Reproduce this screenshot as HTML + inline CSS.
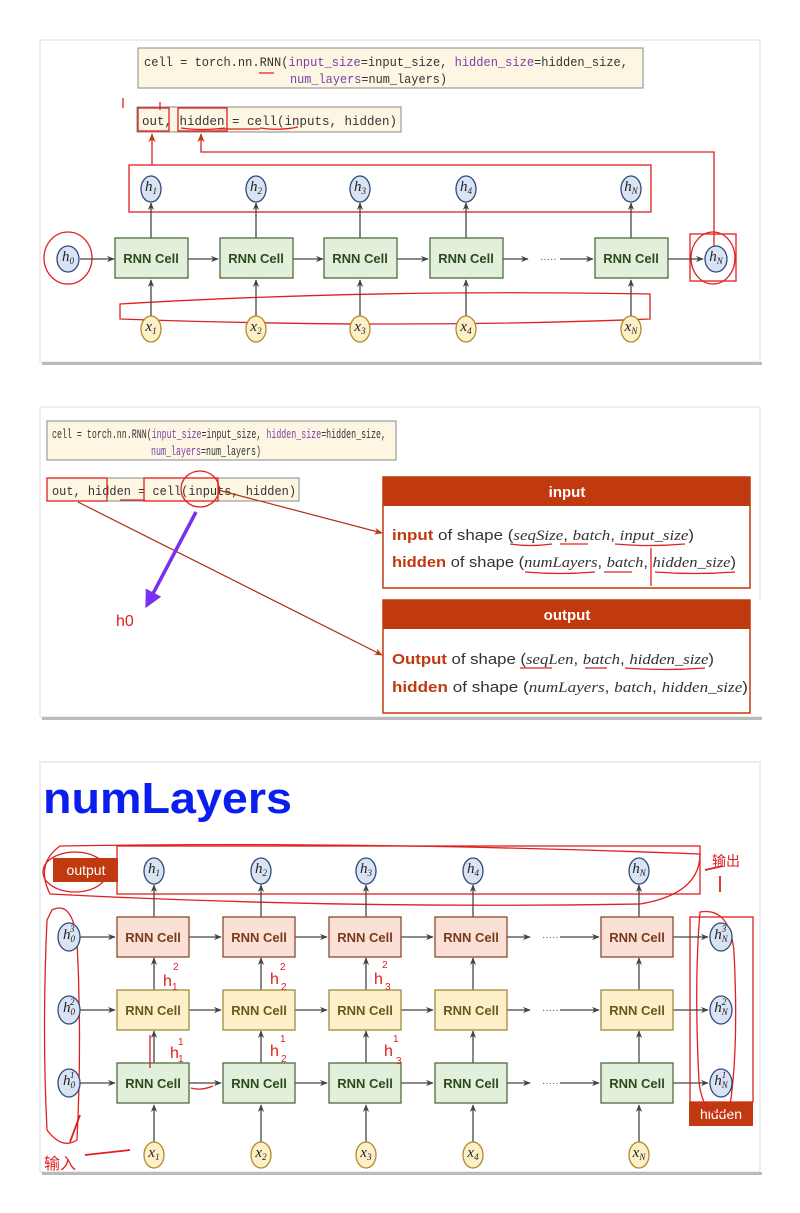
<!DOCTYPE html>
<html><head><meta charset="utf-8"><style>
html,body{margin:0;padding:0;background:#fff;}
svg{display:block}
.code{font-family:"Liberation Mono",monospace;font-size:13px;fill:#333}
.kw{fill:#7a3fa8}
.cell{font-family:"Liberation Sans",sans-serif;font-weight:bold;font-size:13px;text-anchor:middle}
.v{font-family:"Liberation Serif",serif;font-style:italic;font-size:15px;text-anchor:middle;fill:#222}
.sub{font-size:9px}
.t{font-family:"Liberation Sans",sans-serif;font-size:15px;fill:#333}
.b{font-weight:bold;fill:#c0390f}
.i{font-family:"Liberation Serif",serif;font-style:italic}
.r{fill:none;stroke:#e02020;stroke-width:1.3}
.ln{stroke:#444;stroke-width:1.3;fill:none}
</style></head><body>
<svg width="800" height="1213" viewBox="0 0 800 1213" xmlns="http://www.w3.org/2000/svg">
<defs>
<marker id="a" viewBox="0 0 10 10" refX="9" refY="5" markerWidth="6" markerHeight="6" orient="auto"><path d="M0,1 L10,5 L0,9 L3,5z" fill="#444"/></marker>
<marker id="ar" viewBox="0 0 10 10" refX="9" refY="5" markerWidth="7" markerHeight="7" orient="auto"><path d="M0,1 L10,5 L0,9 L3,5z" fill="#c0390f"/></marker>
<marker id="ap" viewBox="0 0 10 10" refX="8" refY="5" markerWidth="5" markerHeight="5" orient="auto"><path d="M0,0 L10,5 L0,10z" fill="#7b2ff0"/></marker>
</defs>
<!-- panels -->
<rect x="40" y="40" width="720" height="322" fill="#fff" stroke="#ddd"/>
<rect x="42" y="362" width="720" height="3" fill="#bbb"/>
<rect x="40" y="407" width="720" height="310" fill="#fff" stroke="#ddd"/>
<rect x="42" y="717" width="720" height="3" fill="#bbb"/>
<rect x="40" y="762" width="720" height="410" fill="#fff" stroke="#ddd"/>
<rect x="42" y="1172" width="720" height="3" fill="#bbb"/>

<!-- PANEL 1 -->
<rect x="138" y="48" width="505" height="40" fill="#fdf6e3" stroke="#888"/>
<text class="code" x="144" y="66" textLength="484" lengthAdjust="spacingAndGlyphs">cell = torch.nn.RNN(<tspan class="kw">input_size</tspan>=input_size, <tspan class="kw">hidden_size</tspan>=hidden_size,</text>
<text class="code" x="290" y="83" textLength="157" lengthAdjust="spacingAndGlyphs"><tspan class="kw">num_layers</tspan>=num_layers)</text>
<rect x="137" y="107" width="264" height="25" fill="#fdf6e3" stroke="#888"/>
<text class="code" x="142" y="125" textLength="255" lengthAdjust="spacingAndGlyphs">out, hidden = cell(inputs, hidden)</text>
<rect x="138" y="108" width="31" height="23" class="r"/>
<rect x="178" y="108" width="49" height="23" class="r"/>
<path d="M259,73 h15 M181,128 q20,3 44,0 M215,129 h45 M260,128 q20,3 38,-1 M123,98 v10 M160,102 v8" class="r"/>
<rect x="129" y="165" width="522" height="47" class="r"/>
<path d="M152,165 V134" class="r" marker-end="url(#ar)"/>
<path d="M714,250 V152 H201 V134" class="r" marker-end="url(#ar)"/>
<path d="M120,304 q250,-15 530,-10 v25 q-250,10 -530,0 z" class="r"/>
<ellipse cx="68" cy="258" rx="24" ry="26" class="r"/>
<rect x="690" y="234" width="46" height="47" class="r"/>
<ellipse cx="713" cy="258" rx="22" ry="26" class="r"/>
<path class="ln" d="M80,259 H114" marker-end="url(#a)"/>
<path class="ln" d="M188,259 H218" marker-end="url(#a)"/>
<path class="ln" d="M293,259 H323" marker-end="url(#a)"/>
<path class="ln" d="M397,259 H428" marker-end="url(#a)"/>
<path class="ln" d="M503,259 H528" marker-end="url(#a)"/>
<path class="ln" d="M560,259 H593" marker-end="url(#a)"/>
<path class="ln" d="M668,259 H703" marker-end="url(#a)"/>
<path class="ln" d="M151,238 V203" marker-end="url(#a)"/>
<path class="ln" d="M256,238 V203" marker-end="url(#a)"/>
<path class="ln" d="M360,238 V203" marker-end="url(#a)"/>
<path class="ln" d="M466,238 V203" marker-end="url(#a)"/>
<path class="ln" d="M631,238 V203" marker-end="url(#a)"/>
<path class="ln" d="M151,316 V280" marker-end="url(#a)"/>
<path class="ln" d="M256,316 V280" marker-end="url(#a)"/>
<path class="ln" d="M360,316 V280" marker-end="url(#a)"/>
<path class="ln" d="M466,316 V280" marker-end="url(#a)"/>
<path class="ln" d="M631,316 V280" marker-end="url(#a)"/>
<text x="540" y="262" font-size="10" fill="#444" font-family="Liberation Sans">·····</text>
<g fill="#e2efda" stroke="#4e6b3f" stroke-width="1.3">
<rect x="115" y="238" width="73" height="40"/><rect x="220" y="238" width="73" height="40"/><rect x="324" y="238" width="73" height="40"/><rect x="430" y="238" width="73" height="40"/><rect x="595" y="238" width="73" height="40"/>
</g>
<g class="cell" fill="#2d4a1e"><text x="151" y="263">RNN Cell</text><text x="256" y="263">RNN Cell</text><text x="360" y="263">RNN Cell</text><text x="466" y="263">RNN Cell</text><text x="631" y="263">RNN Cell</text></g>
<g fill="#dae3f3" stroke="#2f4a7a" stroke-width="1.3">
<ellipse cx="151" cy="189" rx="10" ry="13"/><ellipse cx="256" cy="189" rx="10" ry="13"/><ellipse cx="360" cy="189" rx="10" ry="13"/><ellipse cx="466" cy="189" rx="10" ry="13"/><ellipse cx="631" cy="189" rx="10" ry="13"/>
<ellipse cx="68" cy="259" rx="11" ry="13"/><ellipse cx="716" cy="259" rx="11" ry="13"/>
</g>
<g fill="#fdf0c8" stroke="#b08b2a" stroke-width="1.3">
<ellipse cx="151" cy="329" rx="10" ry="13"/><ellipse cx="256" cy="329" rx="10" ry="13"/><ellipse cx="360" cy="329" rx="10" ry="13"/><ellipse cx="466" cy="329" rx="10" ry="13"/><ellipse cx="631" cy="329" rx="10" ry="13"/>
</g>
<g class="v">
<text x="151" y="191">h<tspan class="sub" dy="3">1</tspan></text><text x="256" y="191">h<tspan class="sub" dy="3">2</tspan></text><text x="360" y="191">h<tspan class="sub" dy="3">3</tspan></text><text x="466" y="191">h<tspan class="sub" dy="3">4</tspan></text><text x="631" y="191">h<tspan class="sub" dy="3">N</tspan></text>
<text x="68" y="261">h<tspan class="sub" dy="3">0</tspan></text><text x="716" y="261">h<tspan class="sub" dy="3">N</tspan></text>
<text x="151" y="331">x<tspan class="sub" dy="3">1</tspan></text><text x="256" y="331">x<tspan class="sub" dy="3">2</tspan></text><text x="360" y="331">x<tspan class="sub" dy="3">3</tspan></text><text x="466" y="331">x<tspan class="sub" dy="3">4</tspan></text><text x="631" y="331">x<tspan class="sub" dy="3">N</tspan></text>
</g>

<!-- PANEL 2 -->
<rect x="47" y="421" width="349" height="39" fill="#fdf6e3" stroke="#888"/>
<text class="code" x="52" y="438" textLength="334" lengthAdjust="spacingAndGlyphs">cell = torch.nn.RNN(<tspan class="kw">input_size</tspan>=input_size, <tspan class="kw">hidden_size</tspan>=hidden_size,</text>
<text class="code" x="151" y="455" textLength="110" lengthAdjust="spacingAndGlyphs"><tspan class="kw">num_layers</tspan>=num_layers)</text>
<rect x="47" y="478" width="252" height="23" fill="#fdf6e3" stroke="#888"/>
<text class="code" x="52" y="495" textLength="244" lengthAdjust="spacingAndGlyphs">out, hidden = cell(inputs, hidden)</text>
<rect x="47" y="478" width="60" height="23" class="r"/>
<rect x="144" y="478" width="74" height="23" class="r"/>
<path d="M120,500 h25" class="r"/>
<ellipse cx="200" cy="489" rx="19" ry="18" class="r"/>
<path d="M218,490 L382,533" stroke="#b03010" stroke-width="1.2" fill="none" marker-end="url(#ar)"/>
<path d="M78,502 L382,655" stroke="#b03010" stroke-width="1.2" fill="none" marker-end="url(#ar)"/>
<path d="M196,512 L147,605" stroke="#7b2ff0" stroke-width="3.5" fill="none" marker-end="url(#ap)"/>
<text x="116" y="626" fill="#e02020" font-family="Liberation Sans" font-size="16">h0</text>
<rect x="383" y="477" width="367" height="111" fill="#fff" stroke="#c0390f" stroke-width="1.5"/>
<rect x="383" y="477" width="367" height="29" fill="#c0390f"/>
<text x="567" y="497" text-anchor="middle" fill="#fff" font-family="Liberation Sans" font-weight="bold" font-size="15">input</text>
<text class="t" x="392" y="540" textLength="302" lengthAdjust="spacingAndGlyphs"><tspan class="b">input</tspan> of shape (<tspan class="i">seqSize</tspan>, <tspan class="i">batch</tspan>, <tspan class="i">input_size</tspan>)</text>
<text class="t" x="392" y="567" textLength="344" lengthAdjust="spacingAndGlyphs"><tspan class="b">hidden</tspan> of shape (<tspan class="i">numLayers</tspan>, <tspan class="i">batch</tspan>, <tspan class="i">hidden_size</tspan>)</text>
<path d="M510,544 q20,3 42,0 M560,544 h28 M615,544 q35,3 70,0 M525,572 q35,3 70,0 M604,572 h28 M655,572 q40,3 80,0 M651,548 v38" class="r"/>
<rect x="383" y="600" width="367" height="113" fill="#fff" stroke="#c0390f" stroke-width="1.5"/>
<rect x="383" y="600" width="367" height="29" fill="#c0390f"/>
<text x="567" y="620" text-anchor="middle" fill="#fff" font-family="Liberation Sans" font-weight="bold" font-size="15">output</text>
<text class="t" x="392" y="664" textLength="322" lengthAdjust="spacingAndGlyphs"><tspan class="b">Output</tspan> of shape (<tspan class="i">seqLen</tspan>, <tspan class="i">batch</tspan>, <tspan class="i">hidden_size</tspan>)</text>
<text class="t" x="392" y="692" textLength="356" lengthAdjust="spacingAndGlyphs"><tspan class="b">hidden</tspan> of shape (<tspan class="i">numLayers</tspan>, <tspan class="i">batch</tspan>, <tspan class="i">hidden_size</tspan>)</text>
<path d="M520,668 h32 M585,668 h22 M625,668 q40,3 80,0" class="r"/>
<rect x="751" y="600" width="10" height="115" fill="#fff"/>

<!-- PANEL 3 -->
<text x="43" y="813" fill="#0a1ef0" font-family="Liberation Sans" font-weight="bold" font-size="44" textLength="249" lengthAdjust="spacingAndGlyphs">numLayers</text>
<rect x="117" y="846" width="583" height="48" class="r"/>
<path d="M60,846 q300,-5 640,8 q0,40 -60,50 q-300,5 -590,-10 q-15,-30 10,-48z" class="r"/>
<ellipse cx="75" cy="872" rx="32" ry="20" class="r"/>
<rect x="53" y="858" width="65" height="24" fill="#c0390f"/>
<text x="86" y="875" text-anchor="middle" fill="#fff" font-family="Liberation Sans" font-size="14">output</text>
<rect x="690" y="917" width="63" height="185" class="r"/>
<rect x="689" y="1102" width="64" height="24" fill="#c0390f"/>
<text x="721" y="1119" text-anchor="middle" fill="#fff" font-family="Liberation Sans" font-size="14">hidden</text>
<path d="M52,910 q20,-10 25,30 q5,100 0,200 q-15,10 -30,-10 q-5,-100 0,-210z" class="r"/>
<path d="M700,912 q30,-5 34,40 q5,100 -5,160 q-25,10 -30,-30 q-5,-100 1,-170z" class="r"/>
<path d="M705,870 L723,866 M720,876 L720,892" stroke="#e02020" stroke-width="1.8" fill="none"/>
<path d="M80,1115 L70,1142 M130,1150 L85,1155" stroke="#e02020" stroke-width="1.8" fill="none"/>
<text x="712" y="866" fill="#e02020" font-family="Liberation Sans, Noto Sans CJK SC, sans-serif" font-size="14">输出</text>
<text x="44" y="1169" fill="#e02020" font-family="Liberation Sans, Noto Sans CJK SC, sans-serif" font-size="16">输入</text>
<!-- horizontal arrows -->
<path class="ln" d="M80,937 H115" marker-end="url(#a)"/><path class="ln" d="M189,937 H221" marker-end="url(#a)"/><path class="ln" d="M295,937 H327" marker-end="url(#a)"/><path class="ln" d="M401,937 H433" marker-end="url(#a)"/><path class="ln" d="M507,937 H530" marker-end="url(#a)"/><path class="ln" d="M560,937 H599" marker-end="url(#a)"/><path class="ln" d="M673,937 H708" marker-end="url(#a)"/>
<path class="ln" d="M80,1010 H115" marker-end="url(#a)"/><path class="ln" d="M189,1010 H221" marker-end="url(#a)"/><path class="ln" d="M295,1010 H327" marker-end="url(#a)"/><path class="ln" d="M401,1010 H433" marker-end="url(#a)"/><path class="ln" d="M507,1010 H530" marker-end="url(#a)"/><path class="ln" d="M560,1010 H599" marker-end="url(#a)"/><path class="ln" d="M673,1010 H708" marker-end="url(#a)"/>
<path class="ln" d="M80,1083 H115" marker-end="url(#a)"/><path class="ln" d="M189,1083 H221" marker-end="url(#a)"/><path class="ln" d="M295,1083 H327" marker-end="url(#a)"/><path class="ln" d="M401,1083 H433" marker-end="url(#a)"/><path class="ln" d="M507,1083 H530" marker-end="url(#a)"/><path class="ln" d="M560,1083 H599" marker-end="url(#a)"/><path class="ln" d="M673,1083 H708" marker-end="url(#a)"/>
<!-- vertical arrows -->
<path class="ln" d="M154,917 V885" marker-end="url(#a)"/><path class="ln" d="M261,917 V885" marker-end="url(#a)"/><path class="ln" d="M366,917 V885" marker-end="url(#a)"/><path class="ln" d="M473,917 V885" marker-end="url(#a)"/><path class="ln" d="M639,917 V885" marker-end="url(#a)"/>
<path class="ln" d="M154,990 V958" marker-end="url(#a)"/><path class="ln" d="M261,990 V958" marker-end="url(#a)"/><path class="ln" d="M366,990 V958" marker-end="url(#a)"/><path class="ln" d="M473,990 V958" marker-end="url(#a)"/><path class="ln" d="M639,990 V958" marker-end="url(#a)"/>
<path class="ln" d="M154,1063 V1031" marker-end="url(#a)"/><path class="ln" d="M261,1063 V1031" marker-end="url(#a)"/><path class="ln" d="M366,1063 V1031" marker-end="url(#a)"/><path class="ln" d="M473,1063 V1031" marker-end="url(#a)"/><path class="ln" d="M639,1063 V1031" marker-end="url(#a)"/>
<path class="ln" d="M154,1142 V1105" marker-end="url(#a)"/><path class="ln" d="M261,1142 V1105" marker-end="url(#a)"/><path class="ln" d="M366,1142 V1105" marker-end="url(#a)"/><path class="ln" d="M473,1142 V1105" marker-end="url(#a)"/><path class="ln" d="M639,1142 V1105" marker-end="url(#a)"/>
<g font-family="Liberation Sans" font-size="10" fill="#444"><text x="542" y="940">·····</text><text x="542" y="1013">·····</text><text x="542" y="1086">·····</text></g>
<g fill="#fbe0d5" stroke="#8a4a30" stroke-width="1.3">
<rect x="117" y="917" width="72" height="40"/><rect x="223" y="917" width="72" height="40"/><rect x="329" y="917" width="72" height="40"/><rect x="435" y="917" width="72" height="40"/><rect x="601" y="917" width="72" height="40"/></g>
<g fill="#fdf0c8" stroke="#a08a40" stroke-width="1.3">
<rect x="117" y="990" width="72" height="40"/><rect x="223" y="990" width="72" height="40"/><rect x="329" y="990" width="72" height="40"/><rect x="435" y="990" width="72" height="40"/><rect x="601" y="990" width="72" height="40"/></g>
<g fill="#e2efda" stroke="#4e6b3f" stroke-width="1.3">
<rect x="117" y="1063" width="72" height="40"/><rect x="223" y="1063" width="72" height="40"/><rect x="329" y="1063" width="72" height="40"/><rect x="435" y="1063" width="72" height="40"/><rect x="601" y="1063" width="72" height="40"/></g>
<g class="cell" fill="#7a3a1e"><text x="153" y="942">RNN Cell</text><text x="259" y="942">RNN Cell</text><text x="365" y="942">RNN Cell</text><text x="471" y="942">RNN Cell</text><text x="637" y="942">RNN Cell</text></g>
<g class="cell" fill="#6a5a1a"><text x="153" y="1015">RNN Cell</text><text x="259" y="1015">RNN Cell</text><text x="365" y="1015">RNN Cell</text><text x="471" y="1015">RNN Cell</text><text x="637" y="1015">RNN Cell</text></g>
<g class="cell" fill="#2d4a1e"><text x="153" y="1088">RNN Cell</text><text x="259" y="1088">RNN Cell</text><text x="365" y="1088">RNN Cell</text><text x="471" y="1088">RNN Cell</text><text x="637" y="1088">RNN Cell</text></g>
<g fill="#dae3f3" stroke="#2f4a7a" stroke-width="1.3">
<ellipse cx="154" cy="871" rx="10" ry="13"/><ellipse cx="261" cy="871" rx="10" ry="13"/><ellipse cx="366" cy="871" rx="10" ry="13"/><ellipse cx="473" cy="871" rx="10" ry="13"/><ellipse cx="639" cy="871" rx="10" ry="13"/>
<ellipse cx="69" cy="937" rx="11" ry="14"/><ellipse cx="69" cy="1010" rx="11" ry="14"/><ellipse cx="69" cy="1083" rx="11" ry="14"/>
<ellipse cx="721" cy="937" rx="11" ry="14"/><ellipse cx="721" cy="1010" rx="11" ry="14"/><ellipse cx="721" cy="1083" rx="11" ry="14"/></g>
<g fill="#fdf0c8" stroke="#b08b2a" stroke-width="1.3">
<ellipse cx="154" cy="1155" rx="10" ry="13"/><ellipse cx="261" cy="1155" rx="10" ry="13"/><ellipse cx="366" cy="1155" rx="10" ry="13"/><ellipse cx="473" cy="1155" rx="10" ry="13"/><ellipse cx="639" cy="1155" rx="10" ry="13"/></g>
<g class="v">
<text x="154" y="873">h<tspan class="sub" dy="3">1</tspan></text><text x="261" y="873">h<tspan class="sub" dy="3">2</tspan></text><text x="366" y="873">h<tspan class="sub" dy="3">3</tspan></text><text x="473" y="873">h<tspan class="sub" dy="3">4</tspan></text><text x="639" y="873">h<tspan class="sub" dy="3">N</tspan></text>
<text x="69" y="939">h<tspan class="sub" dy="3">0</tspan><tspan class="sub" dx="-5" dy="-10">3</tspan></text>
<text x="69" y="1012">h<tspan class="sub" dy="3">0</tspan><tspan class="sub" dx="-5" dy="-10">2</tspan></text>
<text x="69" y="1085">h<tspan class="sub" dy="3">0</tspan><tspan class="sub" dx="-5" dy="-10">1</tspan></text>
<text x="721" y="939">h<tspan class="sub" dy="3">N</tspan><tspan class="sub" dx="-6" dy="-10">3</tspan></text>
<text x="721" y="1012">h<tspan class="sub" dy="3">N</tspan><tspan class="sub" dx="-6" dy="-10">2</tspan></text>
<text x="721" y="1085">h<tspan class="sub" dy="3">N</tspan><tspan class="sub" dx="-6" dy="-10">1</tspan></text>
<text x="154" y="1157">x<tspan class="sub" dy="3">1</tspan></text><text x="261" y="1157">x<tspan class="sub" dy="3">2</tspan></text><text x="366" y="1157">x<tspan class="sub" dy="3">3</tspan></text><text x="473" y="1157">x<tspan class="sub" dy="3">4</tspan></text><text x="639" y="1157">x<tspan class="sub" dy="3">N</tspan></text>
</g>
<g fill="#e02020" font-family="Liberation Sans" font-size="16">
<text x="163" y="986">h</text><text x="173" y="970" font-size="10">2</text><text x="172" y="990" font-size="10">1</text>
<text x="270" y="984">h</text><text x="280" y="970" font-size="10">2</text><text x="281" y="990" font-size="10">2</text>
<text x="374" y="984">h</text><text x="382" y="968" font-size="10">2</text><text x="385" y="990" font-size="10">3</text>
<text x="170" y="1058">h</text><text x="178" y="1045" font-size="10">1</text><text x="178" y="1062" font-size="10">1</text>
<text x="270" y="1056">h</text><text x="280" y="1042" font-size="10">1</text><text x="281" y="1062" font-size="10">2</text>
<text x="384" y="1056">h</text><text x="393" y="1042" font-size="10">1</text><text x="396" y="1064" font-size="10">3</text>
</g>
<path d="M150,1068 V1035 M191,1088 q10,3 22,-2" class="r"/>
</svg>
</body></html>
